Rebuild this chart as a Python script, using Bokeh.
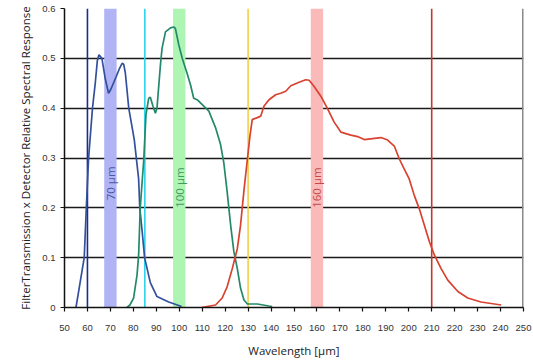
import math
from bokeh.plotting import figure
from bokeh.models import FixedTicker, Range1d
from bokeh.core.properties import value
from bokeh.embed import file_html
from bokeh.resources import INLINE

# ---- data ----
blue_x = [55.0, 56.4, 58.6, 59.5, 60.5, 62.2, 63.4, 64.3, 65.0, 66.3, 67.8, 69.2, 70.2, 71.4, 72.6,
          74.0, 75.1, 75.8, 76.5, 78.0, 80.4, 82.3, 82.8, 83.9, 84.9, 87.4, 90.3, 95.4, 99.8, 101.0]
blue_y = [0.0, 0.039, 0.1, 0.2, 0.3, 0.4, 0.45, 0.495, 0.507, 0.5, 0.458, 0.43, 0.438, 0.451, 0.464,
          0.48, 0.49, 0.488, 0.471, 0.4, 0.337, 0.258, 0.2, 0.15, 0.1, 0.05, 0.022, 0.011, 0.004, 0.002]

green_x = [77.2, 78.5, 80.1, 81.6, 82.3, 83.0, 84.5, 85.5, 86.7, 87.4, 88.5, 89.6, 90.3, 91.8, 92.5,
           94.0, 96.2, 97.6, 98.3, 99.8, 101.3, 103.4, 104.9, 106.3, 107.8, 110.7, 112.9, 115.8,
           118.0, 119.4, 120.9, 122.4, 123.8, 125.3, 126.7, 128.2, 129.7, 134.0, 139.1, 140.5]
green_y = [0.0, 0.005, 0.019, 0.065, 0.105, 0.2, 0.294, 0.387, 0.42, 0.422, 0.405, 0.39, 0.4, 0.487, 0.52,
           0.553, 0.561, 0.563, 0.56, 0.527, 0.5, 0.47, 0.447, 0.42, 0.417, 0.404, 0.394, 0.361,
           0.327, 0.291, 0.231, 0.165, 0.112, 0.078, 0.039, 0.015, 0.007, 0.007, 0.003, 0.002]

red_x = [109.7, 115.8, 118.7, 120.9, 123.1, 125.3, 126.7, 128.2, 129.7, 130.8, 131.8, 134.0, 135.5,
         136.9, 139.1, 142.0, 144.2, 146.4, 148.6, 152.2, 155.1, 156.6, 158.7, 161.7, 164.6, 167.5,
         170.4, 174.8, 177.7, 180.6, 184.2, 187.9, 190.8, 193.7, 195.9, 198.0, 200.2, 202.4, 204.6,
         206.8, 209.0, 211.2, 214.1, 217.0, 221.4, 225.7, 231.5, 240.3]
red_y = [0.0, 0.005, 0.019, 0.042, 0.078, 0.118, 0.165, 0.235, 0.298, 0.344, 0.377, 0.381, 0.384,
         0.404, 0.417, 0.427, 0.43, 0.434, 0.445, 0.452, 0.457, 0.456, 0.444, 0.424, 0.399, 0.372,
         0.352, 0.346, 0.343, 0.337, 0.339, 0.341, 0.336, 0.324, 0.298, 0.278, 0.258, 0.225, 0.198,
         0.165, 0.132, 0.105, 0.078, 0.055, 0.032, 0.019, 0.011, 0.005]

band_centers = [70, 100, 160]
band_labels = ["70 μm", "100 μm", "160 μm"]
band_label_y = [0.215, 0.2, 0.2]
marker_lines = [60, 85, 130, 210]

x_ticks = list(range(50, 251, 10))
y_ticks = [0, 0.1, 0.2, 0.3, 0.4, 0.5, 0.6]

# ---- styles ----
band_colors = ["#b0b4f4", "#aef5b4", "#fbbaba"]
label_colors = ["#4a58a8", "#3f9a62", "#c44a4a"]
marker_colors = ["#1c2c8c", "#2ad4ea", "#f2d04a", "#c0392b"]
half_w = 2.7

p = figure(width=532, height=360, output_backend="svg", toolbar_location=None,
           x_range=Range1d(50, 250), y_range=Range1d(0, 0.6),
           min_border_left=64, min_border_right=9, min_border_top=8, min_border_bottom=51)
p.outline_line_color = None
p.background_fill_color = "white"

# bands
p.quad(left=[c - half_w for c in band_centers], right=[c + half_w for c in band_centers],
       bottom=0, top=0.6, fill_color=band_colors, line_color=None)

# horizontal gridlines
p.xgrid.grid_line_color = None
p.ygrid.grid_line_color = "#1a1a1a"
p.ygrid.grid_line_width = 1.3
p.ygrid.ticker = FixedTicker(ticks=y_ticks)

# right border
p.segment(x0=[250], x1=[250], y0=[0], y1=[0.6], line_color="#8a8a8a", line_width=3)

# vertical marker lines
p.segment(x0=marker_lines, x1=marker_lines, y0=0, y1=0.6, line_color=marker_colors, line_width=1.6)

# curves
p.line(blue_x, blue_y, line_color="#34509c", line_width=1.7)
p.line(green_x, green_y, line_color="#23896a", line_width=1.7)
p.line(red_x, red_y, line_color="#d8422f", line_width=1.7)

# band labels
p.text(x=band_centers, y=band_label_y, text=band_labels, angle=math.pi / 2,
       text_align="left", text_baseline="middle", text_color=label_colors,
       text_font=value("Open Sans"), text_font_size="11.5px")

# axes
p.xaxis.ticker = FixedTicker(ticks=x_ticks)
p.yaxis.ticker = FixedTicker(ticks=y_ticks)
p.yaxis.major_label_overrides = {0: "0"}
for ax in (p.xaxis[0], p.yaxis[0]):
    ax.axis_line_color = "#111111"
    ax.axis_line_width = 1.5
    ax.major_tick_line_color = "#111111"
    ax.major_tick_line_width = 1.2
    ax.major_tick_out = 4
    ax.major_tick_in = 0
    ax.minor_tick_line_color = None
    ax.major_label_text_font = "Liberation Sans"
    ax.major_label_text_font_size = "9.5px"
    ax.major_label_text_color = "#333333"
    ax.axis_label_text_font = "Open Sans"
    ax.axis_label_text_font_style = "normal"
    ax.axis_label_text_color = "#222222"

p.xaxis.major_label_standoff = 13
p.xaxis.axis_label = "Wavelength [μm]"
p.xaxis.axis_label_text_font_size = "11.5px"
p.xaxis.axis_label_standoff = 9

p.yaxis.major_label_standoff = 5
p.yaxis.axis_label = "FilterTransmission x Detector Relative Spectral Response"
p.yaxis.axis_label_text_font_size = "11.5px"
p.yaxis.axis_label_standoff = 6

open("out.html", "w").write(file_html(p, INLINE))
